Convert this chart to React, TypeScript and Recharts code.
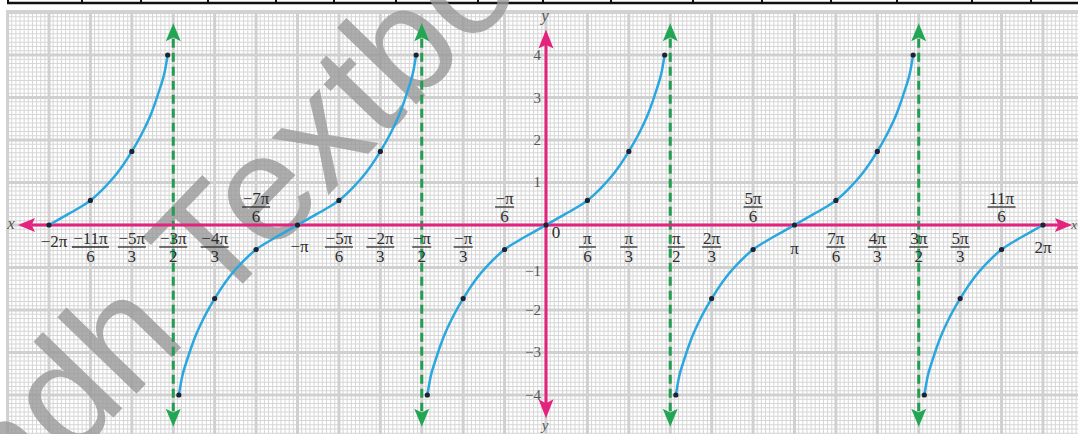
import React from 'react';
import { LineChart, Line, XAxis, YAxis, ReferenceLine, ReferenceDot } from 'recharts';

const PI = Math.PI;
const W = 1078;
const H = 434;
const MARGIN = { top: 10, right: 0, bottom: 0, left: 6 };
const X_DOMAIN: [number, number] = [-6.827, 6.726];
const Y_DOMAIN: [number, number] = [-4.918, 5.059];

// one branch of y = tan x around x = 0 (radians), as drawn on the sheet
const branchX = [-1.5, -1.46, -1.4, -1.3, -1.18, -1.0472, -0.87, -0.7, -0.5236, -0.35, -0.18, 0,
  0.18, 0.35, 0.5236, 0.7, 0.87, 1.0472, 1.18, 1.3, 1.4, 1.46, 1.5];
const branchY = [-4, -3.58, -3.2, -2.66, -2.17, -1.732, -1.24, -0.88, -0.577, -0.37, -0.19, 0,
  0.19, 0.37, 0.577, 0.88, 1.24, 1.732, 2.17, 2.66, 3.2, 3.58, 4];
const branchDot = [1, 0, 0, 0, 0, 1, 0, 0, 1, 0, 0, 1, 0, 0, 1, 0, 0, 1, 0, 0, 0, 0, 1];

// branch centres in multiples of π, and which half of the branch is shown
const branchCenters = [-2, -1, 0, 1, 2];
const branchParts = ['right', 'full', 'full', 'full', 'left'];

// vertical asymptotes, multiples of π
const asymptotes = [-1.5, -0.5, 0.5, 1.5];

// x tick labels at multiples of π/6
const fracK = [-11, -10, -9, -8, -7, -5, -4, -3, -2, -1, 1, 2, 3, 4, 5, 7, 8, 9, 10, 11];
const fracNum = ['−11π', '−5π', '−3π', '−4π', '−7π', '−5π', '−2π', '−π', '−π', '−π',
  'π', 'π', 'π', '2π', '5π', '7π', '4π', '3π', '5π', '11π'];
const fracDen = ['6', '3', '2', '3', '6', '6', '3', '2', '3', '6',
  '6', '3', '2', '3', '6', '6', '3', '2', '3', '6'];
const fracAbove = [-7, -1, 5, 11];
const wholeK = [-12, -6, 0, 6, 12];
const wholeText = ['−2π', '−π', '0', 'π', '2π'];
const yTicks = [4, 3, 2, 1, -1, -2, -3, -4];

// header rule dividers
const headerCols = [8, 82, 141, 208, 276, 334, 396, 478, 543, 611, 693, 762, 831, 897, 972, 1031];

const BLUE = '#2aa7df';
const PINK = '#e3237e';
const GREEN = '#239d50';
const INK = '#2e2e2e';
const SERIF = "'Liberation Serif', 'DejaVu Serif', serif";

// graph paper: fine rules every π/60 and 0.1, heavy rules every π/6 and 1
const fineX = Array.from({ length: 260 }, (_, i) => ((i - 130) * PI) / 60).filter((_, i) => (i - 130) % 10 !== 0);
const fineY = Array.from({ length: 100 }, (_, i) => (i - 49) / 10).filter((_, i) => (i - 49) % 10 !== 0);
const majorX = Array.from({ length: 26 }, (_, i) => ((i - 13) * PI) / 6);
const majorY = Array.from({ length: 10 }, (_, i) => i - 4);

const branches = branchCenters.map((c, i) =>
  branchX
    .map((bx, j) => ({ x: c * PI + bx, y: branchY[j], mark: branchDot[j] === 1 }))
    .filter((p) => {
      if (branchParts[i] === 'right') return p.x >= c * PI - 1e-9;
      if (branchParts[i] === 'left') return p.x <= c * PI + 1e-9;
      return true;
    })
);

const arrow = (dir: 'up' | 'down' | 'left' | 'right', color: string, len: number, half: number) =>
  (p: any) => {
    const { cx, cy } = p;
    const n = len * 0.8;
    let pts = '';
    if (dir === 'up') pts = `${cx},${cy} ${cx - half},${cy + len} ${cx},${cy + n} ${cx + half},${cy + len}`;
    if (dir === 'down') pts = `${cx},${cy} ${cx - half},${cy - len} ${cx},${cy - n} ${cx + half},${cy - len}`;
    if (dir === 'left') pts = `${cx},${cy} ${cx + len},${cy - half} ${cx + n},${cy} ${cx + len},${cy + half}`;
    if (dir === 'right') pts = `${cx},${cy} ${cx - len},${cy - half} ${cx - n},${cy} ${cx - len},${cy + half}`;
    return <polygon points={pts} fill={color} />;
  };

const fraction = (num: string, den: string, above: boolean, dx: number) => (p: any) => {
  const cx = p.cx + dx;
  const bar = above ? p.cy - 18 : p.cy + 22;
  const w = Math.max(17, num.length * 9 + 1);
  return (
    <g fontFamily={SERIF} fontSize={17} fill={INK}>
      <text x={cx} y={bar - 2.5} textAnchor="middle">{num}</text>
      <line x1={cx - w / 2} x2={cx + w / 2} y1={bar} y2={bar} stroke={INK} strokeWidth={1.3} />
      <text x={cx} y={bar + 15} textAnchor="middle">{den}</text>
    </g>
  );
};

const wholeOffset: Record<string, [number, number]> = {
  '−2π': [5, 22], '−π': [2, 27], '0': [10, 13], 'π': [0, 29], '2π': [0, 28],
};

const plain = (t: string) => (p: any) => {
  const [dx, dy] = wholeOffset[t];
  return (
    <text x={p.cx + dx} y={p.cy + dy} textAnchor="middle" fontFamily={SERIF} fontSize={17} fill={INK}>{t}</text>
  );
};

const yLabel = (v: number) => (p: any) => (
  <text x={p.cx - 5} y={p.cy + 5 + (v === -1 ? 4 : 0)} textAnchor="end" fontFamily={SERIF} fontSize={15} fill="#555">
    {v < 0 ? `−${-v}` : v}
  </text>
);

const curveDot = (p: any) =>
  p.payload && p.payload.mark ? (
    <circle key={`d-${p.index}`} cx={p.cx} cy={p.cy} r={2.6} fill="#1c2433" />
  ) : (
    <g key={`d-${p.index}`} />
  );

const axes = (
  <>
    <XAxis type="number" dataKey="x" domain={X_DOMAIN} hide allowDataOverflow />
    <YAxis type="number" dataKey="y" domain={Y_DOMAIN} hide allowDataOverflow />
  </>
);

const layer: React.CSSProperties = { position: 'absolute', left: 0, top: 0 };

export default function App() {
  return (
    <div style={{ position: 'absolute', left: 0, top: 0, width: W, height: H, background: '#fff', overflow: 'hidden' }}>
      {/* graph paper */}
      <div style={layer}>
        <LineChart width={W} height={H} margin={MARGIN} data={[{ x: 0, y: 0 }]}>
          {axes}
          {fineX.map((v) => (
            <ReferenceLine key={`fx-${v}`} x={v} stroke="#d6d6d6" strokeWidth={1} />
          ))}
          {fineY.map((v) => (
            <ReferenceLine key={`fy-${v}`} y={v} stroke="#d6d6d6" strokeWidth={1} />
          ))}
          {majorX.map((v) => (
            <ReferenceLine key={`mx-${v}`} x={v} stroke="#d0d0d0" strokeWidth={3} />
          ))}
          {majorY.map((v) => (
            <ReferenceLine key={`my-${v}`} y={v} stroke="#d0d0d0" strokeWidth={3} />
          ))}
        </LineChart>
      </div>

      {/* header rule */}
      <svg style={layer} width={W} height={14}>
        <rect x={0} y={0} width={W} height={9} fill="#fff" />
        <line x1={7} x2={W} y1={3} y2={3} stroke="#111" strokeWidth={2.5} />
        {headerCols.map((c) => (
          <line key={c} x1={c} x2={c} y1={0} y2={4} stroke="#111" strokeWidth={2} />
        ))}
      </svg>
      <div style={{ position: 'absolute', left: 0, top: 0, width: 6, height: H, background: '#fff' }} />
      <div style={{ position: 'absolute', left: 6, top: 10, width: W - 6, height: H - 10, borderTop: '3px solid #d2d2d2', borderLeft: '2px solid #d2d2d2' }} />

      {/* watermark */}
      <svg style={layer} width={W} height={H}>
        <text
          x={-82}
          y={620}
          transform="rotate(-46 -82 620)"
          fontFamily="'Liberation Sans', Arial, sans-serif"
          fontSize={152}
          fill="#9a9a9a"
          opacity={0.8}
        >
          Sindh Textbook
        </text>
      </svg>

      <div style={layer}>
        <LineChart width={W} height={H} margin={MARGIN}>
          {axes}

          {asymptotes.map((a) => (
            <ReferenceLine
              key={`as-${a}`}
              segment={[{ x: a * PI, y: 4.38 }, { x: a * PI, y: -4.38 }]}
              stroke={GREEN}
              strokeWidth={3}
              strokeDasharray="9 5"
            />
          ))}
          {asymptotes.map((a) => (
            <ReferenceDot key={`au-${a}`} x={a * PI} y={4.75} r={1} shape={arrow('up', '#22a653', 18, 7.5)} />
          ))}
          {asymptotes.map((a) => (
            <ReferenceDot key={`ad-${a}`} x={a * PI} y={-4.75} r={1} shape={arrow('down', '#22a653', 18, 7.5)} />
          ))}

          <ReferenceLine segment={[{ x: -6.5, y: 0 }, { x: 6.48, y: 0 }]} stroke={PINK} strokeWidth={3} />
          <ReferenceLine segment={[{ x: 0, y: 4.3 }, { x: 0, y: -4.25 }]} stroke={PINK} strokeWidth={3} />
          <ReferenceDot x={-6.675} y={0} r={1} shape={arrow('left', PINK, 17, 7)} />
          <ReferenceDot x={6.65} y={0} r={1} shape={arrow('right', PINK, 17, 7)} />
          <ReferenceDot x={0} y={4.6} r={1} shape={arrow('up', PINK, 19, 7.5)} />
          <ReferenceDot x={0} y={-4.55} r={1} shape={arrow('down', PINK, 19, 7.5)} />

          {fracK.map((k, i) => (
            <ReferenceDot
              key={`f-${k}`}
              x={(k * PI) / 6}
              y={0}
              r={1}
              shape={fraction(fracNum[i], fracDen[i], fracAbove.includes(k), k === 3 ? 6 : 0)}
            />
          ))}
          {wholeK.map((k, i) => (
            <ReferenceDot key={`w-${k}`} x={(k * PI) / 6} y={0} r={1} shape={plain(wholeText[i])} />
          ))}
          {yTicks.map((v) => (
            <ReferenceDot key={`y-${v}`} x={0} y={v} r={1} shape={yLabel(v)} />
          ))}

          {branches.map((b, i) => (
            <Line
              key={`b-${i}`}
              data={b}
              dataKey="y"
              type="monotone"
              stroke={BLUE}
              strokeWidth={2.5}
              dot={curveDot}
              activeDot={false}
              isAnimationActive={false}
            />
          ))}
        </LineChart>
      </div>

      {/* axis names */}
      <svg style={layer} width={W} height={H}>
        <g fontFamily={SERIF} fontSize={17} fill="#555">
          <text x={11} y={229} textAnchor="middle" fontStyle="italic">x</text>
          <text x={1077} y={229} textAnchor="end" fontSize={13} fontStyle="italic">x</text>
          <text x={545} y={21} textAnchor="middle" fontStyle="italic">y</text>
          <text x={545} y={430} textAnchor="middle" fontSize={15} fontStyle="italic">y</text>
        </g>
      </svg>
    </div>
  );
}
